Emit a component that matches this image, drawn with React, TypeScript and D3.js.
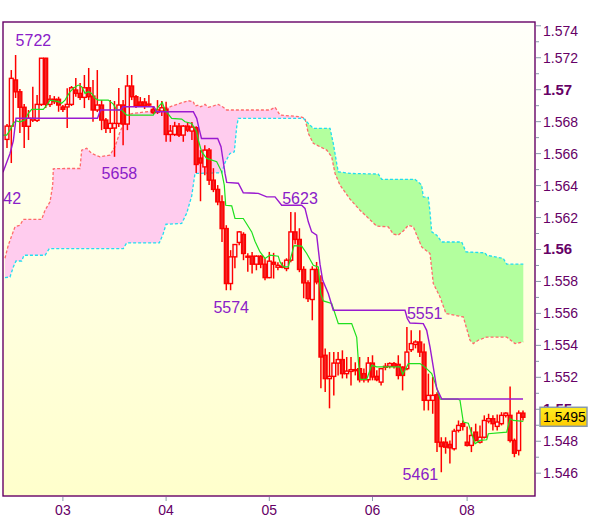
import React from "react";
import * as d3 from "d3";

// ---------- data ----------
const opens = [
  1.56689, 1.56772, 1.57061, 1.56987, 1.5689, 1.56771, 1.5681, 1.56808, 1.56908, 1.57197,
  1.56908, 1.5694, 1.5694, 1.56892, 1.56892, 1.56908, 1.56998, 1.56977, 1.56952, 1.57012,
  1.5696, 1.56873, 1.56904, 1.5681, 1.56758, 1.5676, 1.56789, 1.56904, 1.56785, 1.57023,
  1.56956, 1.56923, 1.56923, 1.5691, 1.56877, 1.5686, 1.56866, 1.56879, 1.5672, 1.5672,
  1.56772, 1.56716, 1.56772, 1.56741, 1.56762, 1.56572, 1.56517, 1.56622, 1.56434, 1.56376,
  1.56298, 1.56131, 1.55787, 1.55954, 1.56044, 1.56094, 1.55958, 1.55958, 1.55908, 1.55958,
  1.55908, 1.55824, 1.5592, 1.55889, 1.55895, 1.55881, 1.55933, 1.5611, 1.56063, 1.55875,
  1.55791, 1.55687, 1.55875, 1.55791, 1.55338, 1.55192, 1.55206, 1.55289, 1.55311, 1.55223,
  1.55237, 1.55247, 1.55254, 1.55223, 1.55185, 1.55289, 1.55206, 1.5517, 1.55265, 1.55269,
  1.55286, 1.55281, 1.55264, 1.55254, 1.55373, 1.55406, 1.55421, 1.55358, 1.55056, 1.55056,
  1.55091, 1.54794, 1.54794, 1.5478, 1.54753, 1.54868, 1.5491, 1.54794, 1.54774, 1.54857,
  1.54794, 1.54825, 1.54926, 1.54941, 1.54893, 1.5491, 1.54962, 1.54962, 1.54805, 1.54742,
  1.54976,
];
const highs = [
  1.56785, 1.57123, 1.57217, 1.57004, 1.5691, 1.56873, 1.57019, 1.56967, 1.57199, 1.57199,
  1.56967, 1.5696, 1.56956, 1.56904, 1.57009, 1.57023, 1.57073, 1.57042, 1.57092, 1.57136,
  1.57061, 1.57123, 1.56935, 1.56823, 1.56935, 1.56929, 1.57011, 1.56935, 1.57092, 1.57092,
  1.56967, 1.56954, 1.56948, 1.56967, 1.56898, 1.56935, 1.56929, 1.56925, 1.56779, 1.56799,
  1.56791, 1.56779, 1.56798, 1.56798, 1.56772, 1.56622, 1.56653, 1.56635, 1.56509, 1.56403,
  1.5634, 1.56152, 1.55996, 1.56027, 1.56115, 1.56108, 1.55977, 1.55985, 1.55964, 1.55964,
  1.55945, 1.55985, 1.55979, 1.5592, 1.5592, 1.55945, 1.56235, 1.56233, 1.56133, 1.55895,
  1.55807, 1.55895, 1.55922, 1.55839, 1.55381, 1.55358, 1.55358, 1.55358, 1.55369, 1.55327,
  1.55327, 1.55294, 1.55327, 1.55256, 1.55327, 1.55338, 1.55244, 1.55256, 1.55289, 1.55294,
  1.55296, 1.55338, 1.55269, 1.55515, 1.55494, 1.55432, 1.55494, 1.55411, 1.55223, 1.55202,
  1.55106, 1.54825, 1.54825, 1.54805, 1.54878, 1.5493, 1.5493, 1.54893, 1.54888, 1.5491,
  1.54899, 1.54962, 1.54972, 1.54962, 1.54968, 1.54982, 1.54982, 1.55143, 1.54817, 1.54993,
  1.54993,
];
const lows = [
  1.56635, 1.56541, 1.56948, 1.56729, 1.56635, 1.56685, 1.56798, 1.56798, 1.56898, 1.56885,
  1.56892, 1.5691, 1.56862, 1.5686, 1.5676, 1.56898, 1.56956, 1.56935, 1.56885, 1.56935,
  1.56799, 1.5686, 1.56747, 1.56729, 1.56729, 1.5658, 1.56766, 1.56653, 1.56747, 1.56935,
  1.56885, 1.56892, 1.56879, 1.56892, 1.56848, 1.56848, 1.56835, 1.56674, 1.56674, 1.5671,
  1.56704, 1.56674, 1.56735, 1.56685, 1.56478, 1.56302, 1.56465, 1.56403, 1.56359, 1.56277,
  1.56047, 1.55745, 1.55745, 1.55883, 1.56027, 1.55933, 1.5586, 1.55849, 1.5587, 1.55883,
  1.55807, 1.5582, 1.55818, 1.5587, 1.55883, 1.55864, 1.5592, 1.56033, 1.55858, 1.55695,
  1.55672, 1.55557, 1.55782, 1.55131, 1.55108, 1.55006, 1.55087, 1.55212, 1.55193, 1.55193,
  1.55149, 1.55212, 1.55168, 1.55168, 1.55168, 1.55181, 1.55175, 1.55149, 1.55244, 1.55256,
  1.55256, 1.55187, 1.55118, 1.55244, 1.55358, 1.55381, 1.55327, 1.54993, 1.54993, 1.54972,
  1.54732, 1.54606, 1.54722, 1.54661, 1.54742, 1.54855, 1.54868, 1.54767, 1.54732, 1.54799,
  1.54786, 1.54817, 1.54912, 1.54868, 1.54868, 1.54899, 1.54949, 1.54792, 1.547, 1.54711,
  1.5493,
];
const closes = [
  1.56772, 1.57071, 1.56987, 1.5689, 1.56771, 1.56821, 1.5682, 1.56908, 1.57197, 1.56908,
  1.5694, 1.56925, 1.56904, 1.56877, 1.56908, 1.57012, 1.56977, 1.56952, 1.57012, 1.56956,
  1.56873, 1.56904, 1.5681, 1.56758, 1.56789, 1.56789, 1.56904, 1.56785, 1.57023, 1.56956,
  1.56902, 1.56902, 1.56898, 1.56904, 1.56856, 1.56873, 1.56887, 1.5672, 1.56741, 1.56772,
  1.56716, 1.56772, 1.56747, 1.56766, 1.56532, 1.56541, 1.56622, 1.56434, 1.56376, 1.56298,
  1.56131, 1.55787, 1.55954, 1.56031, 1.5611, 1.55975, 1.55952, 1.55908, 1.55958, 1.55908,
  1.55824, 1.55927, 1.55908, 1.55901, 1.55889, 1.55933, 1.5611, 1.56063, 1.55875, 1.55791,
  1.55693, 1.55875, 1.55797, 1.55327, 1.55192, 1.55206, 1.55289, 1.55311, 1.55223, 1.55239,
  1.55248, 1.55248, 1.55185, 1.55185, 1.55289, 1.55202, 1.55185, 1.55254, 1.55269, 1.55286,
  1.55269, 1.55212, 1.55212, 1.55358, 1.55411, 1.55421, 1.55358, 1.55056, 1.55087, 1.55087,
  1.54794, 1.54767, 1.54763, 1.54759, 1.54863, 1.54899, 1.54893, 1.54774, 1.54836, 1.54805,
  1.54825, 1.5493, 1.54941, 1.5491, 1.5492, 1.54962, 1.54976, 1.54805, 1.54725, 1.54976,
  1.5495,
];

// Ichimoku lines as [bar index, price]
const kijun: [number, number][] = [
  [-0.93, 1.56484], [0.7, 1.56601], [1.47, 1.56679], [2.09, 1.56821], [21.05, 1.56821],
  [21.74, 1.56873], [26.4, 1.56873], [26.98, 1.56893], [34.19, 1.56893], [34.77, 1.56862],
  [43.33, 1.56862], [44.12, 1.56821], [44.65, 1.56758], [45.23, 1.56695], [49.0, 1.56695],
  [49.77, 1.56643], [50.3, 1.56549], [50.7, 1.56476], [51.1, 1.5642], [53.8, 1.56415],
  [54.95, 1.56355], [58.44, 1.56351], [60.4, 1.56329], [62.33, 1.56329], [63.88, 1.56277],
  [68.53, 1.56277], [69.3, 1.56257], [70.07, 1.56173], [70.86, 1.5611], [72.02, 1.5609],
  [72.79, 1.55908], [73.42, 1.55807], [74.72, 1.55724], [75.88, 1.5562], [92.56, 1.5562],
  [93.09, 1.55568], [93.72, 1.5554], [96.81, 1.55536], [97.6, 1.55494], [98.37, 1.5539],
  [99.14, 1.55264], [99.93, 1.55131], [101.1, 1.55064], [120, 1.55064],
];
const tenkan: [number, number][] = [
  [-0.86, 1.56716], [-0.07, 1.56716], [0.7, 1.56747], [1.47, 1.56789], [2.09, 1.56804],
  [3.02, 1.56799], [4.19, 1.5681], [4.95, 1.56852], [5.74, 1.56877], [8.44, 1.56877],
  [9.6, 1.56915], [10.0, 1.56935], [11.93, 1.56925], [12.72, 1.56915], [13.49, 1.56935],
  [14.65, 1.56987], [15.58, 1.57012], [16.58, 1.57029], [17.37, 1.57019], [18.14, 1.56977],
  [18.91, 1.56987], [19.7, 1.56977], [20.47, 1.56946], [21.23, 1.56935], [23.56, 1.56935],
  [24.72, 1.5691], [25.51, 1.56873], [26.67, 1.56873], [27.84, 1.56841], [34.02, 1.56841],
  [35.19, 1.56893], [36.12, 1.56921], [36.74, 1.56873], [38.3, 1.56821], [40.63, 1.56816],
  [41.4, 1.56799], [42.95, 1.56789], [44.12, 1.56737], [44.49, 1.56685], [45.28, 1.56611],
  [46.44, 1.5657], [48.77, 1.56549], [49.93, 1.56486], [50.53, 1.56403], [50.86, 1.56277],
  [52.26, 1.56273], [53.02, 1.56194], [54.95, 1.56194], [56.91, 1.5611], [57.67, 1.56052],
  [58.84, 1.55985], [60.0, 1.55944], [61.16, 1.55964], [63.09, 1.55958], [63.49, 1.55922],
  [64.26, 1.55891], [65.42, 1.55891], [66.74, 1.56024], [68.53, 1.56021], [69.7, 1.55975],
  [71.23, 1.55901], [72.4, 1.55891], [72.95, 1.55724], [73.56, 1.55678], [75.51, 1.55662],
  [77.05, 1.55536], [80.16, 1.55536], [81.33, 1.5545], [81.7, 1.55306], [82.09, 1.55187],
  [83.65, 1.55187], [84.81, 1.55275], [85.98, 1.55265], [91.4, 1.55265], [92.02, 1.55219],
  [92.56, 1.55244], [93.33, 1.55286], [96.05, 1.55286], [97.21, 1.55264], [98.77, 1.55223],
  [99.77, 1.55149], [100.7, 1.55064], [104.88, 1.55064], [105.35, 1.55056], [106.12, 1.5492],
  [107.28, 1.54913], [108.07, 1.54847], [108.84, 1.54784], [110.0, 1.54805], [111.56, 1.54809],
  [111.93, 1.54847], [116.21, 1.54857], [116.98, 1.54941], [117.74, 1.5493], [120.07, 1.54924],
];
const spanB: [number, number][] = [
  [-0.47, 1.55945], [0.3, 1.56027], [1.86, 1.56142], [3.02, 1.56152], [3.79, 1.56188],
  [8.07, 1.56188], [8.84, 1.56246], [10.0, 1.56298], [10.63, 1.56403], [10.77, 1.56505],
  [13.88, 1.56507], [16.98, 1.56507], [17.37, 1.56622], [18.53, 1.56633], [19.7, 1.56601],
  [21.63, 1.5658], [23.95, 1.56591], [25.12, 1.56643], [26.28, 1.56737], [27.21, 1.56789],
  [27.84, 1.56841], [29.37, 1.56852], [32.49, 1.56862], [34.81, 1.56873], [37.91, 1.56893],
  [40.23, 1.56915], [42.16, 1.56931], [43.33, 1.56925], [43.72, 1.56898], [44.49, 1.56904],
  [45.05, 1.56893], [46.05, 1.56908], [46.81, 1.5689], [47.98, 1.56898], [49.14, 1.56908],
  [50.3, 1.5689], [51.09, 1.56873], [53.42, 1.56873], [61.16, 1.56873], [62.33, 1.5689],
  [63.49, 1.56841], [68.14, 1.56831], [69.3, 1.56821], [70.07, 1.56727], [71.23, 1.56664],
  [72.79, 1.56643], [74.35, 1.56622], [75.51, 1.5658], [76.28, 1.56476], [77.44, 1.56403],
  [79.77, 1.56315], [82.09, 1.56246], [85.98, 1.56146], [88.67, 1.56142], [89.84, 1.56096],
  [91.0, 1.5609], [92.16, 1.56116], [93.33, 1.56152], [94.49, 1.56142], [96.44, 1.56016],
  [98.37, 1.55975], [99.14, 1.55787], [100.7, 1.55703], [102.09, 1.55599], [106.12, 1.55578],
  [107.67, 1.55432], [108.44, 1.55411], [109.6, 1.55432], [111.56, 1.55452], [116.21, 1.55452],
  [118.14, 1.55411], [120.07, 1.55421],
];
const spanA: [number, number][] = [
  [-0.47, 1.55824], [0.7, 1.55828], [1.47, 1.55891], [2.09, 1.55928], [3.42, 1.55928],
  [3.95, 1.55964], [8.84, 1.55964], [9.84, 1.56006], [27.05, 1.56006], [27.84, 1.56041],
  [35.42, 1.56041], [36.35, 1.561], [36.98, 1.56158], [40.63, 1.56163], [41.79, 1.56227],
  [42.95, 1.56334], [43.72, 1.56476], [49.93, 1.5648], [50.7, 1.56544], [51.86, 1.56601],
  [52.86, 1.56611], [53.42, 1.56768], [53.79, 1.56821], [68.91, 1.56821], [70.07, 1.56789],
  [71.23, 1.56758], [75.12, 1.56758], [75.88, 1.56664], [76.67, 1.56539], [77.05, 1.56486],
  [79.77, 1.56476], [86.35, 1.56472], [87.14, 1.56439], [94.88, 1.56439], [96.44, 1.56403],
  [96.81, 1.56329], [97.98, 1.56326], [98.37, 1.56235], [98.77, 1.5611], [99.93, 1.5609],
  [101.09, 1.56047], [105.74, 1.56047], [106.74, 1.55985], [111.16, 1.55979], [111.56, 1.55964],
  [115.42, 1.55944], [116.21, 1.55908], [120.07, 1.55908],
];

const dayBars = [13, 37, 61, 85, 107];
const dayLabels = ["03", "04", "05", "06", "08"];

const extremePrices = [1.5722, 1.5642, 1.5658, 1.5623, 1.5574, 1.5551, 1.5461];
const extremeBars = [2, -5, 22, 64, 48, 93, 92];
const extremeKinds = ["high", "low", "low", "high", "low", "high", "low"];

const lastPrice = 1.5495;

// ---------- layout ----------
const W = 600;
const H = 519;
const PL = 3, PT = 22, PR = 535, PB = 496;

function interp(pts: [number, number][], xv: number) {
  if (xv <= pts[0][0]) return pts[0][1];
  const n = pts.length;
  if (xv >= pts[n - 1][0]) return pts[n - 1][1];
  for (let j = 0; j < n - 1; j++) {
    const a = pts[j], b = pts[j + 1];
    if (xv >= a[0] && xv <= b[0]) {
      const t = b[0] === a[0] ? 0 : (xv - a[0]) / (b[0] - a[0]);
      return a[1] + t * (b[1] - a[1]);
    }
  }
  return pts[n - 1][1];
}

export default function App() {
  const x = d3.scaleLinear().domain([0, 120]).range([7, 523]);
  const y = d3.scaleLinear().domain([1.546, 1.57]).range([473.2, 89.7]);

  // merged grid for the cloud
  const xs = Array.from(new Set([...spanA.map((p) => p[0]), ...spanB.map((p) => p[0])])).sort(
    (a, b) => a - b
  );
  const rows: { i: number; a: number; b: number }[] = [];
  xs.forEach((xi, k) => {
    const a = interp(spanA, xi), b = interp(spanB, xi);
    if (k > 0) {
      const prev = rows[rows.length - 1];
      const d0 = prev.b - prev.a, d1 = b - a;
      if (d0 * d1 < 0) {
        const t = d0 / (d0 - d1);
        rows.push({
          i: prev.i + t * (xi - prev.i),
          a: prev.a + t * (a - prev.a),
          b: prev.b + t * (b - prev.b),
        });
      }
    }
    rows.push({ i: xi, a, b });
  });

  const pinkArea = d3
    .area<{ i: number; a: number; b: number }>()
    .x((d) => x(d.i))
    .y0((d) => y(d.a))
    .y1((d) => y(Math.max(d.a, d.b)));
  const greenArea = d3
    .area<{ i: number; a: number; b: number }>()
    .x((d) => x(d.i))
    .y0((d) => y(d.b))
    .y1((d) => y(Math.max(d.a, d.b)));
  const line = d3
    .line<[number, number]>()
    .x((d) => x(d[0]))
    .y((d) => y(d[1]));

  const ticks = d3.range(0, 29).map((k) => +(1.546 + k * 0.001).toFixed(3));
  const bw = 3.8;

  const font = "'Liberation Sans', Arial, sans-serif";
  const axisColor = "#660066";
  const tickColor = "#8899aa";
  const yLast = y(lastPrice);

  return (
    <svg
      width={W}
      height={H}
      viewBox={`0 0 ${W} ${H}`}
      style={{ position: "absolute", left: 0, top: 0, background: "#ffffff" }}
    >
      <defs>
        <linearGradient id="bg" x1="0" y1="0" x2="0" y2="1">
          <stop offset="0" stopColor="#fffffa" />
          <stop offset="1" stopColor="#ffffcc" />
        </linearGradient>
        <linearGradient id="bodyGrad" x1="0" y1="0" x2="1" y2="0">
          <stop offset="0" stopColor="#c80000" />
          <stop offset="0.5" stopColor="#ff2a2a" />
          <stop offset="1" stopColor="#e00000" />
        </linearGradient>
        <linearGradient id="boxGrad" x1="0" y1="0" x2="0" y2="1">
          <stop offset="0" stopColor="#ffee22" />
          <stop offset="1" stopColor="#ffcc00" />
        </linearGradient>
        <clipPath id="plotClip">
          <rect x={PL} y={PT} width={PR - PL} height={PB - PT} />
        </clipPath>
      </defs>

      <rect x={PL} y={PT} width={PR - PL} height={PB - PT} fill="url(#bg)" />

      <g clipPath="url(#plotClip)">
        <path d={pinkArea(rows) || ""} fill="#ffccee" />
        <path d={greenArea(rows) || ""} fill="#b3ff9e" />
        <path
          d={line(spanB) || ""}
          fill="none"
          stroke="#ff6a6a"
          strokeWidth={1.3}
          strokeDasharray="3 2"
        />
        <path
          d={line(spanA) || ""}
          fill="none"
          stroke="#22ddf0"
          strokeWidth={1.3}
          strokeDasharray="3 2"
        />

        {opens.map((o, i) => {
          const c = closes[i];
          const cx = x(i);
          const top = y(Math.max(o, c));
          const bot = y(Math.min(o, c));
          const bear = c < o;
          return (
            <g key={i}>
              <line x1={cx} x2={cx} y1={y(highs[i])} y2={y(lows[i])} stroke="#ff0000" strokeWidth={1.5} />
              <rect
                x={cx - bw / 2}
                y={top}
                width={bw}
                height={Math.max(bot - top, 1)}
                fill={bear ? "url(#bodyGrad)" : "#f7f5f5"}
                stroke="#ff0000"
                strokeWidth={1.4}
              />
            </g>
          );
        })}

        <path d={line(tenkan) || ""} fill="none" stroke="#1ee01e" strokeWidth={1.2} />
        <path d={line(kijun) || ""} fill="none" stroke="#9a1ad0" strokeWidth={1.4} />

        {extremePrices.map((p, k) => {
          const yy = extremeKinds[k] === "high" ? y(p) - 9 : Math.min(y(p) + 22, PB - 16);
          return (
            <text
              key={k}
              x={x(extremeBars[k])}
              y={yy}
              fontFamily={font}
              fontSize={16}
              fill="#8a20c8"
            >
              {String(Math.round(p * 10000)).slice(-4)}
            </text>
          );
        })}
      </g>

      {/* border */}
      <rect
        x={PL}
        y={PT}
        width={PR - PL}
        height={PB - PT}
        fill="none"
        stroke={axisColor}
        strokeWidth={1.4}
      />

      {/* right axis */}
      {ticks.map((v, k) => {
        const yy = y(v);
        const labeled = k % 2 === 0;
        const bold = Math.abs(v * 100 - Math.round(v * 100)) < 1e-6;
        return (
          <g key={k}>
            <line
              x1={PR + 1}
              x2={PR + (labeled ? 6 : 4)}
              y1={yy}
              y2={yy}
              stroke={tickColor}
              strokeWidth={1}
            />
            {labeled && (
              <text
                x={543}
                y={Math.max(yy, PT + 9) + 5}
                fontFamily={font}
                fontSize={bold ? 15 : 14}
                fontWeight={bold ? "bold" : "normal"}
                fill={axisColor}
              >
                {String(v)}
              </text>
            )}
          </g>
        );
      })}

      {/* bottom axis */}
      {dayBars.map((b, k) => (
        <g key={k}>
          <line x1={x(b)} x2={x(b)} y1={PB + 1} y2={PB + 5} stroke={tickColor} strokeWidth={1} />
          <text
            x={x(b)}
            y={515}
            textAnchor="middle"
            fontFamily={font}
            fontSize={14}
            fill={axisColor}
          >
            {dayLabels[k]}
          </text>
        </g>
      ))}

      {/* last price box */}
      <rect
        x={540}
        y={yLast - 10}
        width={47}
        height={19}
        fill="url(#boxGrad)"
        stroke={tickColor}
        strokeWidth={1.5}
      />
      <text x={543} y={yLast + 5} fontFamily={font} fontSize={14} fill="#000000">
        {String(lastPrice)}
      </text>
    </svg>
  );
}
